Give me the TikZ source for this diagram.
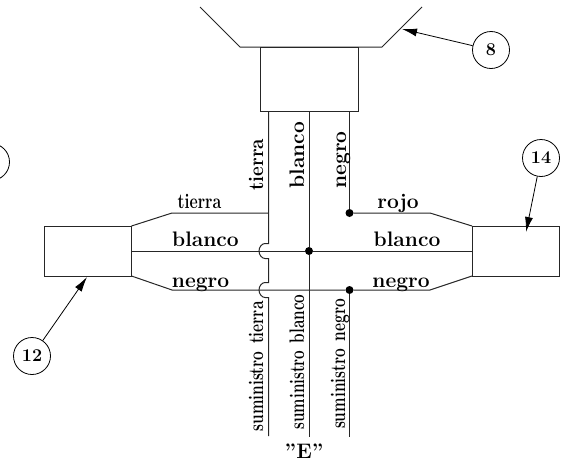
\documentclass[tikz,border=0pt]{standalone}
\usetikzlibrary{arrows.meta}
\tikzset{
  wire/.style={line width=1pt,draw=black!85},
  lead/.style={line width=0.8pt,draw=black,-{Latex[length=15pt,width=8pt]}},
  tag/.style={circle,draw=black,line width=0.8pt,minimum size=37pt,inner sep=0pt,font=\fontsize{18}{18}\selectfont\bfseries},
  unit/.style={draw=black!85,line width=1pt,inner sep=0pt},
  lbl/.style={inner sep=0pt,anchor=base,font=\fontsize{21}{21}\selectfont\bfseries},
  dotj/.style={circle,fill=black,inner sep=0pt,minimum size=8pt},
}
\begin{document}
\begin{tikzpicture}[x=1pt,y=-1pt]
\useasboundingbox (0,0) rectangle (564,463);
% funnel
\coordinate (fa) at (200,7);
\coordinate (fb) at (240,47);
\coordinate (fc) at (382,47);
\coordinate (fd) at (422,7);
\coordinate (p8) at (402,29);
\draw[wire] (fa) -- (fb) -- (fc) -- (fd);
% boxes
\node[unit,minimum width=98pt,minimum height=64pt] (top) at (309,79) {};
\node[unit,minimum width=87pt,minimum height=50pt] (lbox) at (88,251) {};
\node[unit,minimum width=87pt,minimum height=50pt] (rbox) at (515.5,251) {};
% junctions
\node[dotj] (j1) at (349.5,213) {};
\node[dotj] (j2) at (309,251) {};
\node[dotj] (j3) at (349.5,290) {};
% coordinates
\coordinate (t0) at (268.5,111);
\coordinate (t1) at (268.5,213);
\coordinate (b0) at (309,111);
\coordinate (b1) at (309,437);
\coordinate (n0) at (349.5,111);
\coordinate (n1) at (349.5,437);
\coordinate (t9) at (268.5,436);
\coordinate (lt) at (131.5,226);
\coordinate (lb) at (131.5,276);
\coordinate (lm) at (131.5,251);
\coordinate (rt) at (472,226);
\coordinate (rb) at (472,276);
\coordinate (rm) at (472,251);
\coordinate (lt2) at (172,213);
\coordinate (lb2) at (172,290);
\coordinate (rt2) at (430,213);
\coordinate (rb2) at (430,290);
% wires
\draw[wire] (b0) -- (j2) -- (b1);
\draw[wire] (n0) -- (j1);
\draw[wire] (j3) -- (n1);
\draw[wire] (lm) -- (j2) -- (rm);
\draw[wire] (lt) -- (lt2) -- (t1);
\draw[wire] (j1) -- (rt2) -- (rt);
\draw[wire] (lb) -- (lb2) -- (j3) -- (rb2) -- (rb);
% earth conductor with bridges
\draw[wire] (t0) -- (268.5,243.5) -- (265,243.5) .. controls (262,243.5) and (259,247) .. (259,251) .. controls (259,255) and (262,258.5) .. (265,258.5) -- (268.5,258.5) -- (268.5,282.5) -- (265,282.5) .. controls (262,282.5) and (259,286) .. (259,290) .. controls (259,294) and (262,297.5) .. (265,297.5) -- (268.5,297.5) -- (t9);
% tags
\node[tag] (c8) at (491,50) {8};
\node[tag] (c12) at (32,356) {12};
\node[tag] (c14) at (541,158) {14};
\coordinate (p12) at (87,277);
\coordinate (p14) at (526,232);
\draw[lead] (c8) -- (p8);
\draw[lead] (c12) -- (p12);
\draw[lead] (c14) -- (p14);
\begin{scope}
\clip (0,130) rectangle (30,190);
\node[tag] (cx) at (-9,162) {};
\end{scope}
% labels
\node[lbl,xscale=.76] (a1) at (199.5,208) {tierra};
\node[lbl] (a2) at (205.5,246) {blanco};
\node[lbl] (a3) at (200.5,287) {negro};
\node[lbl] (a4) at (398,208) {rojo};
\node[lbl] (a5) at (407,246) {blanco};
\node[lbl] (a6) at (401,287) {negro};
\node[lbl,rotate=90,xscale=.9] (v1) at (263,164.5) {tierra};
\node[lbl,rotate=90] (v2) at (304,155) {blanco};
\node[lbl,rotate=90] (v3) at (346,160) {negro};
\node[lbl,rotate=90,xscale=.74] (s1) at (263,366.5) {suministro\hspace{10pt}tierra};
\node[lbl,rotate=90,xscale=.73] (s2) at (304,362) {suministro\hspace{10pt}blanco};
\node[lbl,rotate=90,xscale=.74] (s3) at (345,364) {suministro\hspace{10pt}negro};
\node[lbl] (e) at (304,458) {"E"};
\end{tikzpicture}
\end{document}
